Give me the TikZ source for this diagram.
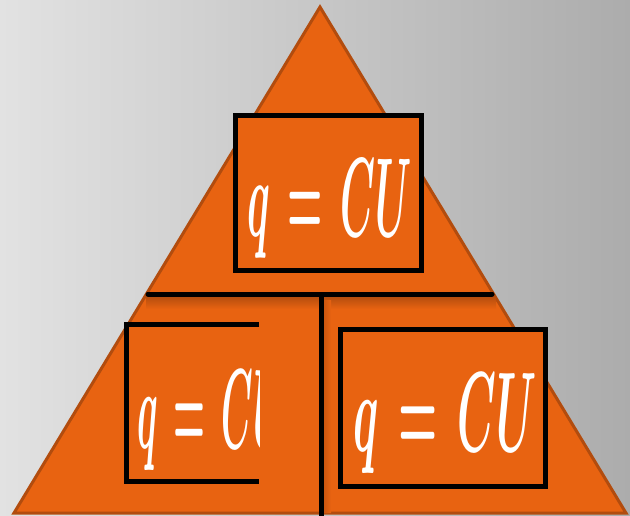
\documentclass[tikz,border=0pt]{standalone}
\usepackage{graphicx}
\definecolor{bgL}{RGB}{226,226,226}
\definecolor{bgR}{RGB}{172,172,172}
\definecolor{org}{RGB}{232,99,17}
\definecolor{orgD}{RGB}{178,76,14}
\newcommand{\eqn}{\boldmath$q\mkern2mu=\mkern2mu CU$}
\begin{document}
\begin{tikzpicture}[x=1pt,y=-1pt,
  eqbox/.style={draw=black, line width=5pt, fill=org, inner sep=0pt},
  eqtext/.style={text=white, inner sep=0pt, anchor=north west},
  divider/.style={draw=black, line width=5pt, line cap=round}]
\useasboundingbox (0,0) rectangle (630,516);
\shade[left color=bgL, right color=bgR] (0,0) rectangle (630,516);
% pyramid
\coordinate (apex) at (320,7);
\coordinate (bl) at (14,513);
\coordinate (br) at (626,513);
\draw[fill=org, draw=orgD, line width=3pt, line join=miter] (apex) -- (br) -- (bl) -- cycle;
% shadows of the dividers
\begin{scope}
  \clip (apex) -- (br) -- (bl) -- cycle;
  \shade[top color=orgD, bottom color=org] (146,296) rectangle (496,309);
  \shade[left color=orgD!60!org, right color=org] (323,300) rectangle (331,516);
\end{scope}
% top box
\node[eqbox, minimum width=186pt, minimum height=155pt] (topbox) at (328.5,193) {};
\node[eqtext] (toptext) at (247,159) {\resizebox*{165pt}{99pt}{\eqn}};
% right box
\node[eqbox, minimum width=205pt, minimum height=157pt] (rightbox) at (443,408) {};
\node[eqtext] (righttext) at (353,373) {\resizebox*{183pt}{100pt}{\eqn}};
% left box (cut on the right)
\coordinate (ltr) at (259,324.5);
\coordinate (ltl) at (126.5,324.5);
\coordinate (lbl) at (126.5,481.5);
\coordinate (lbr) at (259,481.5);
\fill[org] (124,322) rectangle (259,484);
\draw[line width=5pt, line join=miter] (ltr) -- (ltl) -- (lbl) -- (lbr);
\begin{scope}
  \clip (120,330) rectangle (259,478);
  \node[eqtext] (lefttext) at (137,370) {\resizebox*{149pt}{100pt}{\eqn}};
\end{scope}
% dividers
\coordinate (hl) at (148,294);
\coordinate (hr) at (492,294);
\coordinate (vt) at (321,294);
\coordinate (vb) at (321,520);
\draw[divider] (hl) -- (hr);
\draw[divider, line cap=butt] (vt) -- (vb);
\end{tikzpicture}
\end{document}
